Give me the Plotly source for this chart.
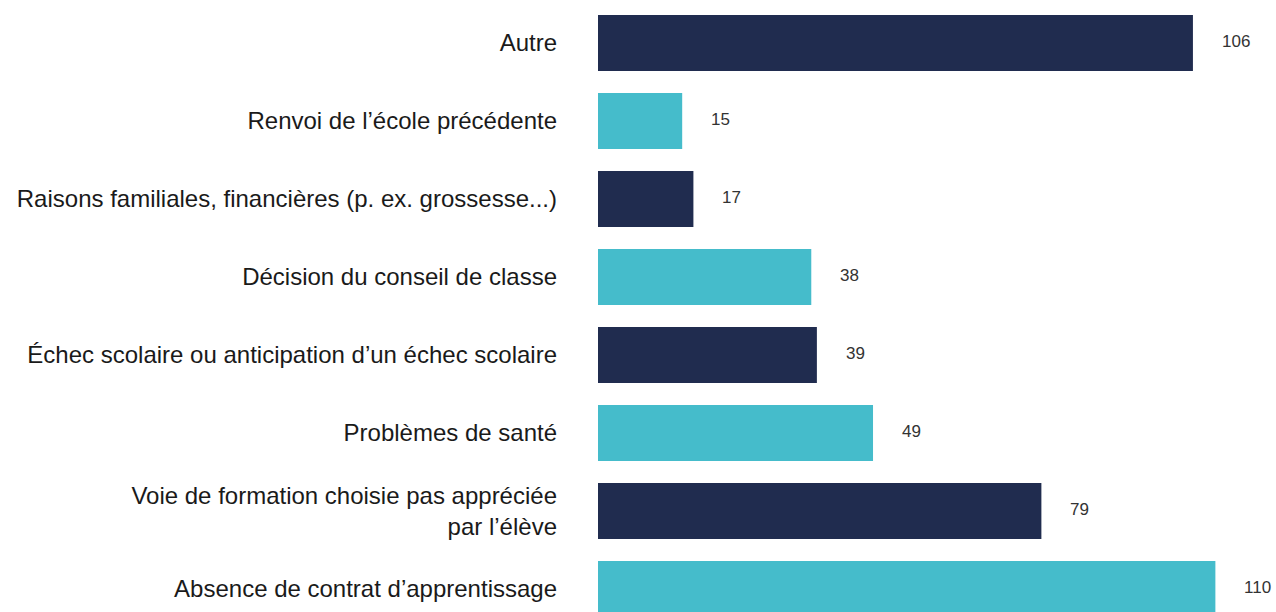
import plotly.graph_objects as go

# categories from bottom to top
categories = [
    "Absence de contrat d’apprentissage",
    "Voie de formation choisie pas appréciée<br>par l’élève",
    "Problèmes de santé",
    "Échec scolaire ou anticipation d’un échec scolaire",
    "Décision du conseil de classe",
    "Raisons familiales, financières (p. ex. grossesse...)",
    "Renvoi de l’école précédente",
    "Autre",
]
values = [110, 79, 49, 39, 38, 17, 15, 106]
bar_colors = ["#45BCCB", "#202C4F", "#45BCCB", "#202C4F",
              "#45BCCB", "#202C4F", "#45BCCB", "#202C4F"]

fig = go.Figure()
fig.add_trace(go.Bar(
    y=categories,
    x=values,
    orientation="h",
    marker=dict(color=bar_colors, line=dict(width=0)),
    hoverinfo="skip",
))

# value labels to the right of each bar
for cat, val in zip(categories, values):
    fig.add_annotation(x=val, y=cat, text=str(val), showarrow=False,
                       xanchor="left", xshift=27, yshift=1,
                       font=dict(family="Liberation Sans", size=17, color="#333333"))

fig.update_layout(
    width=1276, height=612,
    margin=dict(l=598, r=0, t=0, b=0),
    plot_bgcolor="white", paper_bgcolor="white",
    bargap=0.28,
    showlegend=False,
    font=dict(family="Liberation Sans", size=24, color="#1a1a1a"),
)
fig.update_xaxes(range=[0, 120.8], visible=False, fixedrange=True)
# last bar runs off the bottom edge, like the original
fig.update_yaxes(categoryorder="array", categoryarray=categories,
                 range=[-0.295, 7.551], showgrid=False, showline=False,
                 ticks="", ticklabelstandoff=40, fixedrange=True)

# drop the default body margin so the figure fills the window exactly
fig.write_html("out.html", config={"displayModeBar": False},
               post_script="document.body.style.margin = '0';")
